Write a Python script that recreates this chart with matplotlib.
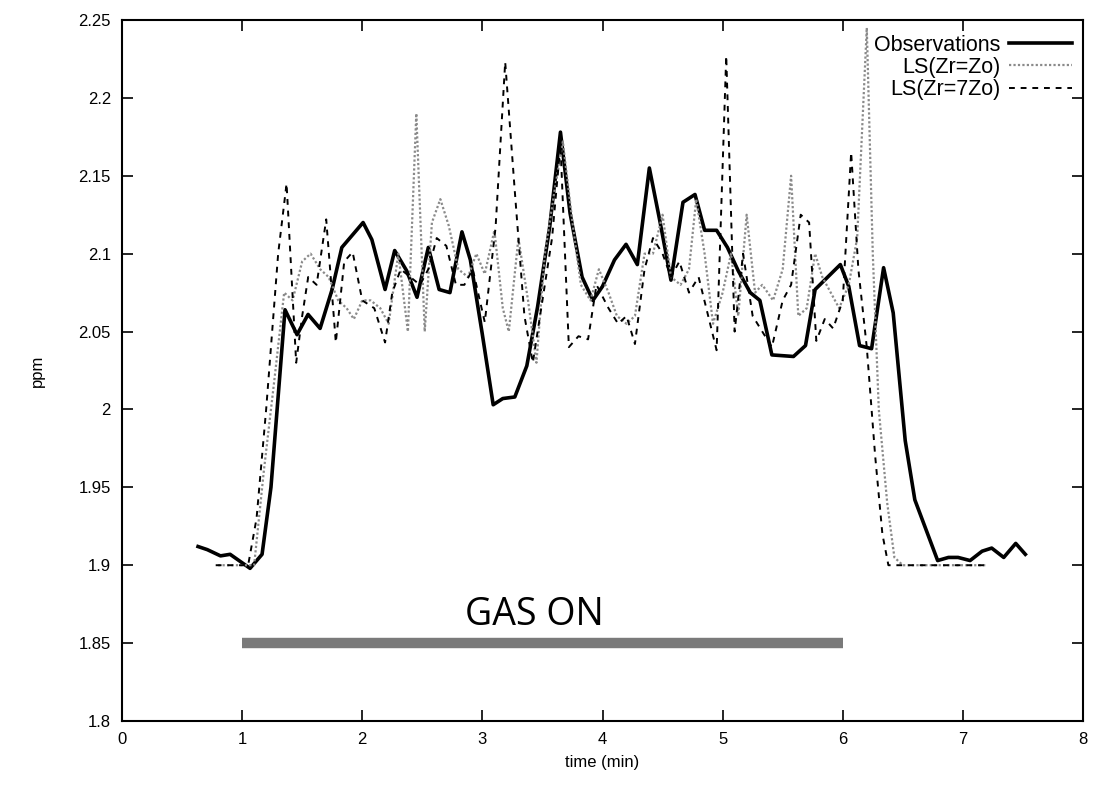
import numpy as np
import matplotlib
matplotlib.use("Agg")
import matplotlib.pyplot as plt

# Observations (time in min, ppm)
obs_t = [0.633, 0.71, 0.82, 0.90, 1.066, 1.166, 1.24, 1.357, 1.457, 1.549, 1.649, 1.749,
         1.83, 2.007, 2.08, 2.19, 2.27, 2.37, 2.456, 2.55, 2.64, 2.73, 2.83, 2.90,
         2.998, 3.09, 3.17, 3.27, 3.37, 3.46, 3.56, 3.65, 3.73, 3.83, 3.92, 4.0,
         4.10, 4.196, 4.29, 4.39, 4.48, 4.57, 4.67, 4.77, 4.85, 4.95, 5.04, 5.13,
         5.23, 5.31, 5.41, 5.59, 5.69, 5.77, 5.98, 6.05, 6.14, 6.24, 6.34, 6.42,
         6.52, 6.60, 6.79, 6.88, 6.96, 7.06, 7.16, 7.24, 7.34, 7.44, 7.52]
obs_y = [1.912, 1.910, 1.906, 1.907, 1.898, 1.907, 1.95, 2.064, 2.048, 2.061, 2.052, 2.077,
         2.104, 2.120, 2.109, 2.077, 2.102, 2.089, 2.072, 2.104, 2.077, 2.075, 2.114, 2.096,
         2.049, 2.003, 2.007, 2.008, 2.028, 2.066, 2.117, 2.178, 2.126, 2.085, 2.070, 2.079,
         2.096, 2.106, 2.093, 2.155, 2.120, 2.083, 2.133, 2.138, 2.115, 2.115, 2.104, 2.089,
         2.075, 2.070, 2.035, 2.034, 2.041, 2.077, 2.093, 2.079, 2.041, 2.039, 2.091, 2.062,
         1.980, 1.942, 1.903, 1.905, 1.905, 1.903, 1.909, 1.911, 1.905, 1.914, 1.907]

# LS(Zr=Zo)
zo_t = [0.80, 1.10, 1.18, 1.27, 1.35, 1.42, 1.50, 1.57, 1.65, 1.72, 1.80, 1.87, 1.93,
        2.00, 2.07, 2.15, 2.22, 2.30, 2.38, 2.45, 2.52, 2.58, 2.65, 2.72, 2.80, 2.88,
        2.95, 3.02, 3.10, 3.17, 3.22, 3.30, 3.38, 3.45, 3.52, 3.60, 3.67, 3.75, 3.82,
        3.90, 3.97, 4.05, 4.12, 4.20, 4.27, 4.35, 4.42, 4.50, 4.57, 4.65, 4.72, 4.78,
        4.85, 4.92, 5.00, 5.07, 5.13, 5.20, 5.27, 5.33, 5.42, 5.50, 5.57, 5.63, 5.70,
        5.77, 5.83, 5.90, 5.97, 6.05, 6.12, 6.20, 6.25, 6.30, 6.37, 6.43, 6.50, 7.20]
zo_y = [1.900, 1.900, 1.960, 2.020, 2.075, 2.070, 2.095, 2.100, 2.090, 2.085, 2.070, 2.065, 2.058,
        2.070, 2.070, 2.065, 2.055, 2.100, 2.050, 2.190, 2.050, 2.120, 2.135, 2.118, 2.090, 2.085,
        2.100, 2.087, 2.115, 2.065, 2.050, 2.110, 2.070, 2.030, 2.100, 2.140, 2.172, 2.120, 2.080,
        2.070, 2.090, 2.075, 2.060, 2.055, 2.060, 2.100, 2.100, 2.125, 2.085, 2.080, 2.090, 2.135,
        2.100, 2.055, 2.075, 2.100, 2.060, 2.125, 2.075, 2.080, 2.070, 2.090, 2.150, 2.060, 2.065,
        2.100, 2.085, 2.075, 2.065, 2.080, 2.110, 2.245, 2.100, 2.000, 1.940, 1.905, 1.900, 1.900]

# LS(Zr=7Zo)
z7_t = [0.78, 1.05, 1.12, 1.20, 1.30, 1.37, 1.45, 1.50, 1.55, 1.62, 1.70, 1.78, 1.85,
        1.92, 2.00, 2.10, 2.19, 2.25, 2.32, 2.40, 2.48, 2.55, 2.62, 2.70, 2.78, 2.85,
        2.92, 3.02, 3.11, 3.19, 3.27, 3.35, 3.42, 3.50, 3.58, 3.65, 3.72, 3.80, 3.88,
        3.95, 4.05, 4.13, 4.20, 4.27, 4.35, 4.42, 4.50, 4.57, 4.64, 4.72, 4.80, 4.88,
        4.95, 5.03, 5.10, 5.17, 5.25, 5.33, 5.41, 5.50, 5.57, 5.65, 5.72, 5.78, 5.85,
        5.92, 6.00, 6.07, 6.13, 6.20, 6.27, 6.33, 6.38, 6.50, 7.20]
z7_y = [1.900, 1.900, 1.930, 2.000, 2.100, 2.145, 2.030, 2.060, 2.085, 2.080, 2.122, 2.043, 2.095,
        2.101, 2.070, 2.065, 2.043, 2.075, 2.090, 2.085, 2.080, 2.090, 2.110, 2.105, 2.080, 2.080,
        2.090, 2.056, 2.117, 2.223, 2.140, 2.060, 2.030, 2.070, 2.110, 2.170, 2.040, 2.047, 2.045,
        2.080, 2.065, 2.055, 2.060, 2.042, 2.090, 2.110, 2.100, 2.085, 2.095, 2.075, 2.085, 2.060,
        2.038, 2.227, 2.050, 2.100, 2.060, 2.050, 2.040, 2.070, 2.080, 2.125, 2.120, 2.044, 2.058,
        2.052, 2.070, 2.165, 2.090, 2.040, 1.970, 1.920, 1.900, 1.900, 1.900]

gas_on = [1.0, 6.0]
gas_level = 1.85

x_ticks = np.arange(0, 9, 1)
y_ticks = [1.8, 1.85, 1.9, 1.95, 2.0, 2.05, 2.1, 2.15, 2.2, 2.25]
y_labels = ["1.8", "1.85", "1.9", "1.95", "2", "2.05", "2.1", "2.15", "2.2", "2.25"]


def main():
    plt.rcParams["font.family"] = ["Liberation Sans", "DejaVu Sans"]
    fig = plt.figure(figsize=(10.96, 7.89), dpi=100)
    ax = fig.add_axes([122 / 1096, 1 - 721 / 789, (1083 - 122) / 1096, (721 - 20) / 789])

    ax.plot(obs_t, obs_y, color="black", lw=2.6, label="Observations")
    ax.plot(zo_t, zo_y, color="#8a8a8a", lw=1.6, linestyle=(0, (1, 1)), label="LS(Zr=Zo)")
    ax.plot(z7_t, z7_y, color="black", lw=1.4, linestyle=(0, (3, 3)), label="LS(Zr=7Zo)")

    # gas on bar
    ax.plot(gas_on, [gas_level, gas_level], color="#7a7a7a", lw=7.5, solid_capstyle="butt")
    ax.text(3.43, 1.868, "GAS ON", fontsize=27, family=["Open Sans", "DejaVu Sans"],
            ha="center", va="center")

    ax.set_xlim(0, 8)
    ax.set_ylim(1.8, 2.25)
    ax.set_xticks(x_ticks)
    ax.set_yticks(y_ticks)
    ax.set_yticklabels(y_labels)
    ax.tick_params(direction="in", top=True, right=True, length=8, width=1.2,
                   labelsize=12, pad=8)
    for s in ax.spines.values():
        s.set_linewidth(1.5)

    ax.set_xlabel("time (min)", fontsize=12, labelpad=6)
    ax.set_ylabel("ppm", fontsize=12, labelpad=24)

    leg = ax.legend(loc="upper right", bbox_to_anchor=(0.997, 0.991), frameon=False,
                    markerfirst=False, fontsize=15.5, handlelength=2.9, borderaxespad=0.0,
                    labelspacing=0.05, handletextpad=0.4)
    for t in leg.get_texts():
        t.set_ha("right")

    fig.savefig("out.png", dpi=100)


if __name__ == "__main__":
    main()
